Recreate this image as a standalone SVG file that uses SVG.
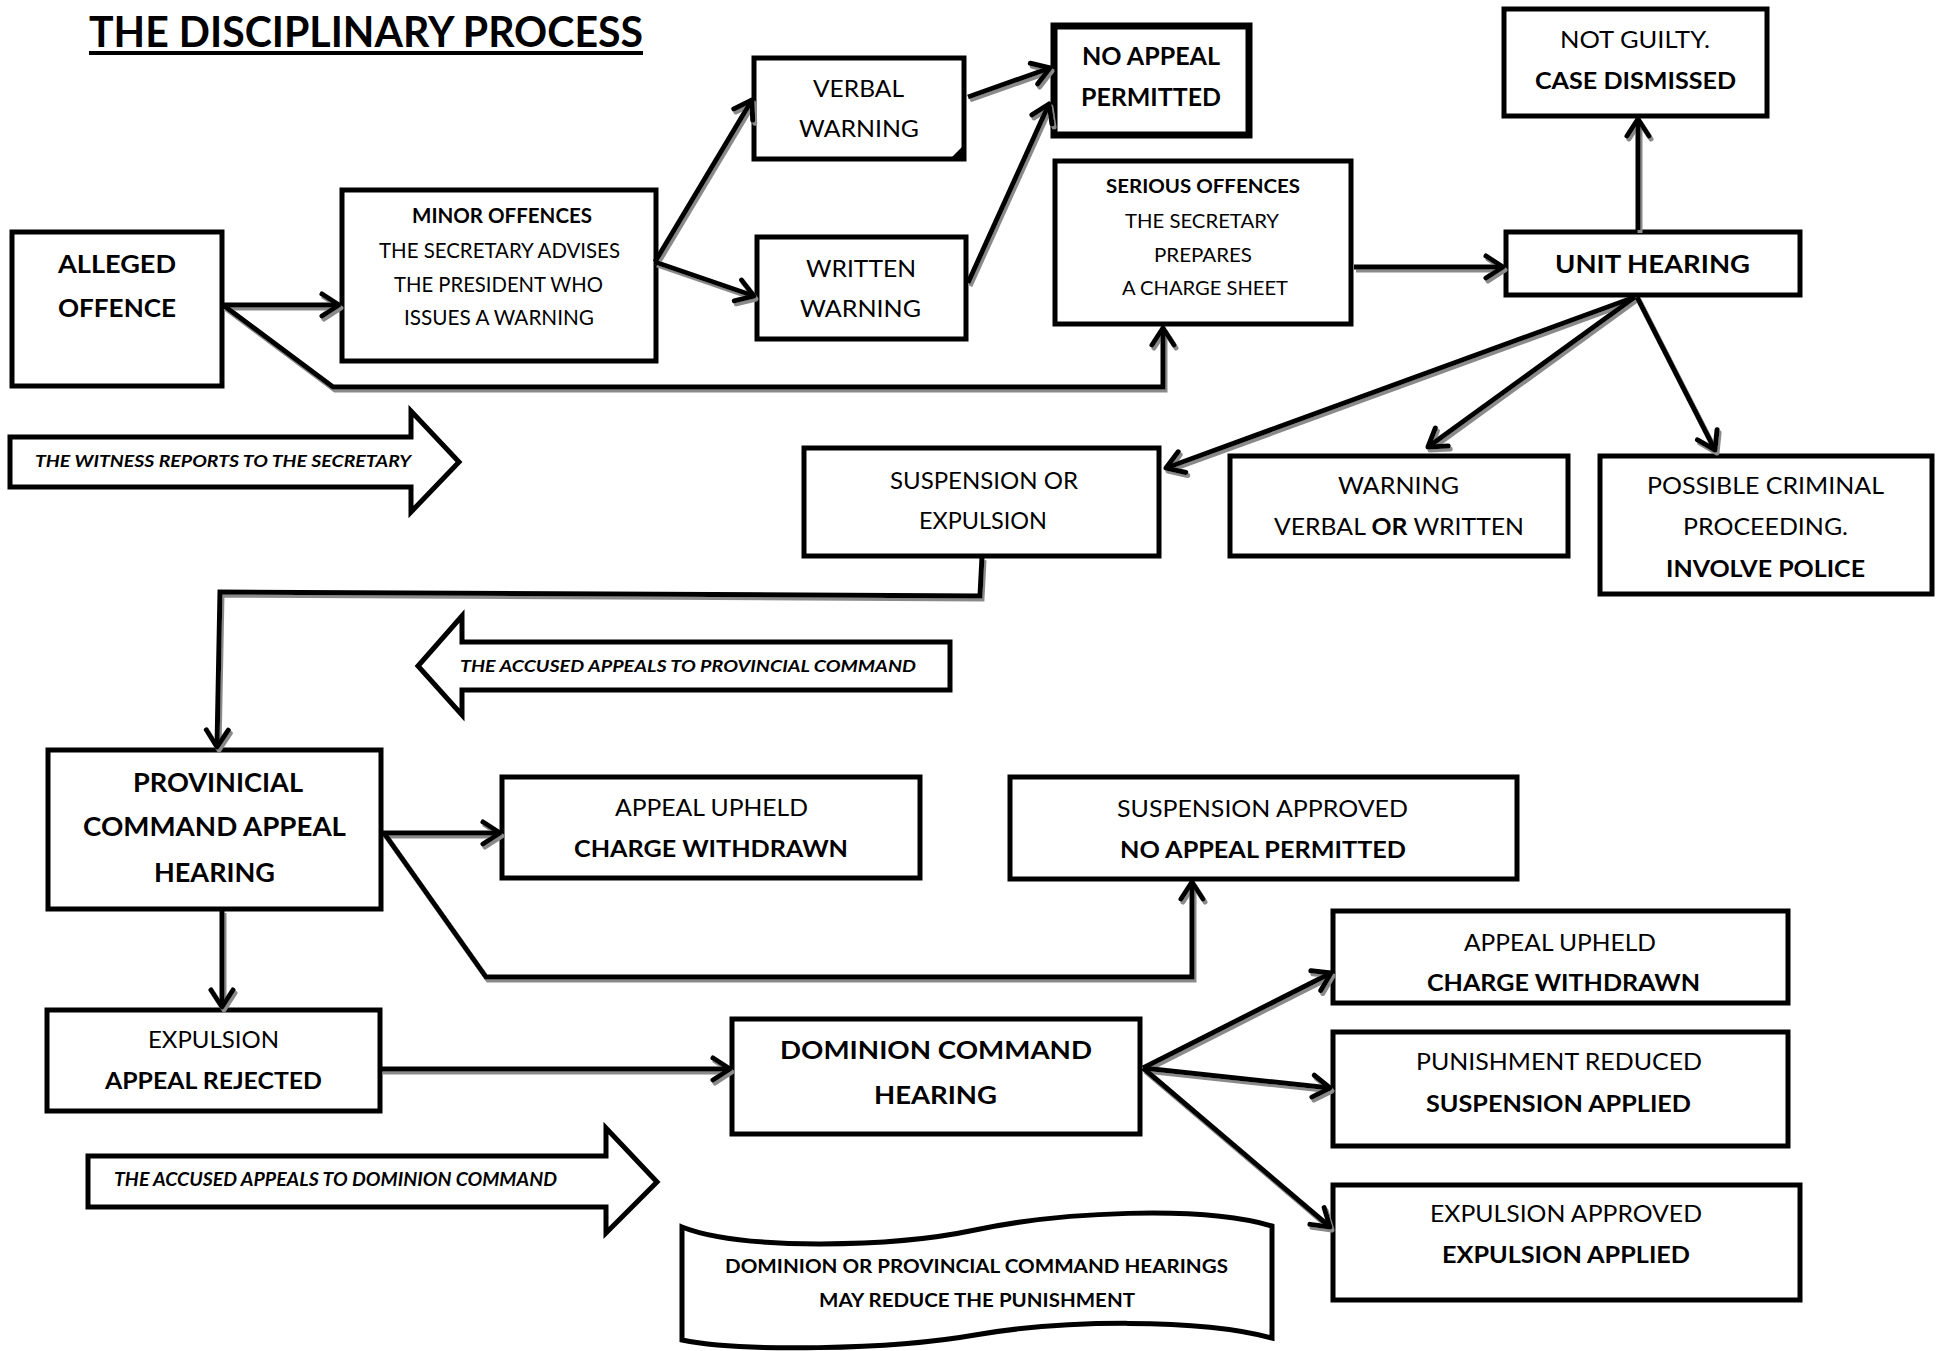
<svg xmlns="http://www.w3.org/2000/svg" width="1944" height="1351" viewBox="0 0 1944 1351">
<style>
.bg{fill:#fff}
.box{fill:#fff;stroke:#000;stroke-width:5}
.box7{fill:#fff;stroke:#000;stroke-width:7}
.blk{fill:#fff;stroke:#000;stroke-width:5;stroke-linejoin:miter}
.t{font-family:Lato,'Open Sans','Liberation Sans',sans-serif;fill:#000;text-anchor:middle}
.r{font-weight:400}
.b{font-weight:700}
.i{font-weight:700;font-style:italic}
.c{fill:none;stroke:#000;stroke-width:5;stroke-linejoin:miter}
.ca{fill:none;stroke:#000;stroke-width:5;stroke-linejoin:miter;marker-end:url(#ah)}
</style>
<defs>
<marker id="ah" markerUnits="userSpaceOnUse" viewBox="-22 -15 27 30" markerWidth="27" markerHeight="30" refX="0" refY="0" orient="auto">
<path d="M-17,-11 L0,0 L-17,11" fill="none" stroke="#000" stroke-width="5" stroke-linecap="round" stroke-linejoin="round"/>
</marker>
<filter id="sh" filterUnits="userSpaceOnUse" x="0" y="0" width="1944" height="1351">
<feDropShadow dx="2" dy="3" stdDeviation="0.6" flood-color="#8a8a8a" flood-opacity="1"/>
</filter>
</defs>
<rect class="bg" x="0" y="0" width="1944" height="1351"/>

<g id="title">
<text class="t b" x="366" y="47" font-size="42" textLength="554" lengthAdjust="spacingAndGlyphs">THE DISCIPLINARY PROCESS</text>
<line x1="89" y1="53" x2="643" y2="53" stroke="#000" stroke-width="4"/>
</g>

<g id="n-alleged">
<rect class="box" x="12" y="232" width="210" height="154"/>
<text class="t b" x="117" y="273" font-size="25.5" textLength="118" lengthAdjust="spacingAndGlyphs">ALLEGED</text>
<text class="t b" x="117" y="317" font-size="25.5" textLength="118" lengthAdjust="spacingAndGlyphs">OFFENCE</text>
</g>

<g id="n-minor">
<rect class="box" x="342" y="190" width="314" height="171"/>
<text class="t b" x="502" y="223" font-size="20" textLength="180" lengthAdjust="spacingAndGlyphs">MINOR OFFENCES</text>
<text class="t r" x="499.5" y="258" font-size="20.5" textLength="241" lengthAdjust="spacingAndGlyphs">THE SECRETARY ADVISES</text>
<text class="t r" x="498.5" y="292" font-size="20.5" textLength="209" lengthAdjust="spacingAndGlyphs">THE PRESIDENT WHO</text>
<text class="t r" x="499" y="325" font-size="20.5" textLength="190" lengthAdjust="spacingAndGlyphs">ISSUES A WARNING</text>
</g>

<g id="n-verbal">
<rect class="box" x="754" y="58" width="210" height="101"/>
<polygon points="951,158 963,146 963,158" fill="#000"/>
<text class="t r" x="858.5" y="97" font-size="23.5" textLength="91" lengthAdjust="spacingAndGlyphs">VERBAL</text>
<text class="t r" x="859" y="137" font-size="23.5" textLength="120" lengthAdjust="spacingAndGlyphs">WARNING</text>
</g>

<g id="n-written">
<rect class="box" x="757" y="237" width="209" height="102"/>
<text class="t r" x="861" y="277" font-size="23.5" textLength="110" lengthAdjust="spacingAndGlyphs">WRITTEN</text>
<text class="t r" x="860.5" y="317" font-size="23.5" textLength="121" lengthAdjust="spacingAndGlyphs">WARNING</text>
</g>

<g id="n-noappeal">
<rect class="box7" x="1054" y="26" width="195" height="109"/>
<text class="t b" x="1151" y="65" font-size="24" textLength="138" lengthAdjust="spacingAndGlyphs">NO APPEAL</text>
<text class="t b" x="1151" y="106" font-size="24" textLength="140" lengthAdjust="spacingAndGlyphs">PERMITTED</text>
</g>

<g id="n-serious">
<rect class="box" x="1055" y="161" width="296" height="163"/>
<text class="t b" x="1203" y="193" font-size="18.5" textLength="194" lengthAdjust="spacingAndGlyphs">SERIOUS OFFENCES</text>
<text class="t r" x="1202" y="228" font-size="18.5" textLength="154" lengthAdjust="spacingAndGlyphs">THE SECRETARY</text>
<text class="t r" x="1203" y="262" font-size="18.5" textLength="98" lengthAdjust="spacingAndGlyphs">PREPARES</text>
<text class="t r" x="1205" y="295" font-size="18.5" textLength="166" lengthAdjust="spacingAndGlyphs">A CHARGE SHEET</text>
</g>

<g id="n-unit">
<rect class="box" x="1506" y="232" width="294" height="63"/>
<text class="t b" x="1652.5" y="273" font-size="25.5" textLength="195" lengthAdjust="spacingAndGlyphs">UNIT HEARING</text>
</g>

<g id="n-notguilty">
<rect class="box" x="1504" y="9" width="263" height="107"/>
<text class="t r" x="1635" y="48" font-size="23.5" textLength="150" lengthAdjust="spacingAndGlyphs">NOT GUILTY.</text>
<text class="t b" x="1635.5" y="89" font-size="23.5" textLength="201" lengthAdjust="spacingAndGlyphs">CASE DISMISSED</text>
</g>

<g id="n-witness">
<path class="blk" d="M10,437 L411,437 L411,411 L459,462 L411,512 L411,487 L10,487 Z"/>
<text class="t i" x="223" y="467" font-size="17" textLength="376" lengthAdjust="spacingAndGlyphs">THE WITNESS REPORTS TO THE SECRETARY</text>
</g>

<g id="n-suspension">
<rect class="box" x="804" y="448" width="355" height="108"/>
<text class="t r" x="984" y="489" font-size="23.5" textLength="188" lengthAdjust="spacingAndGlyphs">SUSPENSION OR</text>
<text class="t r" x="983" y="529" font-size="23.5" textLength="128" lengthAdjust="spacingAndGlyphs">EXPULSION</text>
</g>

<g id="n-warning">
<rect class="box" x="1230" y="456" width="338" height="100"/>
<text class="t r" x="1398.5" y="494" font-size="23.5" textLength="121" lengthAdjust="spacingAndGlyphs">WARNING</text>
<text class="t r" x="1399" y="535" font-size="23.5" textLength="250" lengthAdjust="spacingAndGlyphs">VERBAL <tspan class="b">OR</tspan> WRITTEN</text>
</g>

<g id="n-criminal">
<rect class="box" x="1600" y="456" width="332" height="138"/>
<text class="t r" x="1765.5" y="494" font-size="23.5" textLength="237" lengthAdjust="spacingAndGlyphs">POSSIBLE CRIMINAL</text>
<text class="t r" x="1765.5" y="535" font-size="23.5" textLength="165" lengthAdjust="spacingAndGlyphs">PROCEEDING.</text>
<text class="t b" x="1765.5" y="577" font-size="23.5" textLength="199" lengthAdjust="spacingAndGlyphs">INVOLVE POLICE</text>
</g>

<g id="n-appeal-provincial">
<path class="blk" d="M950,642 L462,642 L462,616 L418,666 L462,715 L462,690 L950,690 Z"/>
<text class="t i" x="688" y="672" font-size="17.5" textLength="456" lengthAdjust="spacingAndGlyphs">THE ACCUSED APPEALS TO PROVINCIAL COMMAND</text>
</g>

<g id="n-provincial">
<rect class="box" x="48" y="750" width="333" height="159"/>
<text class="t b" x="218" y="792" font-size="27.5" textLength="170" lengthAdjust="spacingAndGlyphs">PROVINICIAL</text>
<text class="t b" x="214.5" y="836" font-size="27.5" textLength="263" lengthAdjust="spacingAndGlyphs">COMMAND APPEAL</text>
<text class="t b" x="214.5" y="882" font-size="27.5" textLength="121" lengthAdjust="spacingAndGlyphs">HEARING</text>
</g>

<g id="n-upheld1">
<rect class="box" x="502" y="777" width="418" height="101"/>
<text class="t r" x="711.5" y="816" font-size="23.5" textLength="193" lengthAdjust="spacingAndGlyphs">APPEAL UPHELD</text>
<text class="t b" x="711" y="857" font-size="23.5" textLength="274" lengthAdjust="spacingAndGlyphs">CHARGE WITHDRAWN</text>
</g>

<g id="n-susp-approved">
<rect class="box" x="1010" y="777" width="507" height="102"/>
<text class="t r" x="1262.5" y="817" font-size="23.5" textLength="291" lengthAdjust="spacingAndGlyphs">SUSPENSION APPROVED</text>
<text class="t b" x="1263" y="858" font-size="23.5" textLength="286" lengthAdjust="spacingAndGlyphs">NO APPEAL PERMITTED</text>
</g>

<g id="n-expulsion">
<rect class="box" x="47" y="1010" width="333" height="101"/>
<text class="t r" x="213.5" y="1048" font-size="23.5" textLength="131" lengthAdjust="spacingAndGlyphs">EXPULSION</text>
<text class="t b" x="213.5" y="1089" font-size="23.5" textLength="217" lengthAdjust="spacingAndGlyphs">APPEAL REJECTED</text>
</g>

<g id="n-dominion">
<rect class="box" x="732" y="1019" width="408" height="115"/>
<text class="t b" x="936" y="1059" font-size="25" textLength="312" lengthAdjust="spacingAndGlyphs">DOMINION COMMAND</text>
<text class="t b" x="935.5" y="1104" font-size="25" textLength="123" lengthAdjust="spacingAndGlyphs">HEARING</text>
</g>

<g id="n-appeal-dominion">
<path class="blk" d="M88,1156 L606,1156 L606,1128 L657,1182 L606,1233 L606,1207 L88,1207 Z"/>
<text class="t i" x="335.5" y="1186" font-size="19" textLength="443" lengthAdjust="spacingAndGlyphs">THE ACCUSED APPEALS TO DOMINION COMMAND</text>
</g>

<g id="n-upheld2">
<rect class="box" x="1333" y="911" width="455" height="92"/>
<text class="t r" x="1560" y="951" font-size="23.5" textLength="192" lengthAdjust="spacingAndGlyphs">APPEAL UPHELD</text>
<text class="t b" x="1563.5" y="991" font-size="23.5" textLength="273" lengthAdjust="spacingAndGlyphs">CHARGE WITHDRAWN</text>
</g>

<g id="n-reduced">
<rect class="box" x="1333" y="1032" width="455" height="114"/>
<text class="t r" x="1559" y="1070" font-size="23.5" textLength="286" lengthAdjust="spacingAndGlyphs">PUNISHMENT REDUCED</text>
<text class="t b" x="1558.5" y="1112" font-size="23.5" textLength="265" lengthAdjust="spacingAndGlyphs">SUSPENSION APPLIED</text>
</g>

<g id="n-exp-approved">
<rect class="box" x="1333" y="1185" width="467" height="115"/>
<text class="t r" x="1566" y="1222" font-size="23.5" textLength="272" lengthAdjust="spacingAndGlyphs">EXPULSION APPROVED</text>
<text class="t b" x="1566" y="1263" font-size="23.5" textLength="248" lengthAdjust="spacingAndGlyphs">EXPULSION APPLIED</text>
</g>

<g id="n-note">
<path class="box" d="M682,1227 C740,1250 890,1248 975,1230 C1060,1212 1200,1205 1272,1226 L1272,1338 C1200,1318 1060,1320 975,1335 C890,1350 740,1352 682,1340 Z"/>
<text class="t b" x="976.5" y="1273" font-size="18" textLength="503" lengthAdjust="spacingAndGlyphs">DOMINION OR PROVINCIAL COMMAND HEARINGS</text>
<text class="t b" x="977" y="1307" font-size="18" textLength="316" lengthAdjust="spacingAndGlyphs">MAY REDUCE THE PUNISHMENT</text>
</g>

<g id="connectors" filter="url(#sh)">
<path class="ca" d="M223,305 L339,305"/>
<path class="ca" d="M223,305 L333,387 L1163,387 L1163,328"/>
<path class="ca" d="M655,262 L752,100"/>
<path class="ca" d="M655,262 L754,296"/>
<path class="ca" d="M968,97 L1050,68"/>
<path class="ca" d="M968,283 L1049,104"/>
<path class="ca" d="M1354,267 L1503,267"/>
<path class="ca" d="M1638,230 L1638,119"/>
<path class="ca" d="M1635,297 L1166,468"/>
<path class="ca" d="M1635,297 L1428,447"/>
<path class="ca" d="M1637,297 L1715,450"/>
<path class="ca" d="M982,557 L980,596 L220,592 L217,747"/>
<path class="ca" d="M382,833 L500,833"/>
<path class="ca" d="M384,833 L486,977 L1192,977 L1192,882"/>
<path class="ca" d="M222,910 L222,1007"/>
<path class="ca" d="M381,1069 L730,1069"/>
<path class="ca" d="M1143,1068 L1331,973"/>
<path class="ca" d="M1143,1068 L1330,1088"/>
<path class="ca" d="M1143,1068 L1330,1227"/>
</g>
</svg>
